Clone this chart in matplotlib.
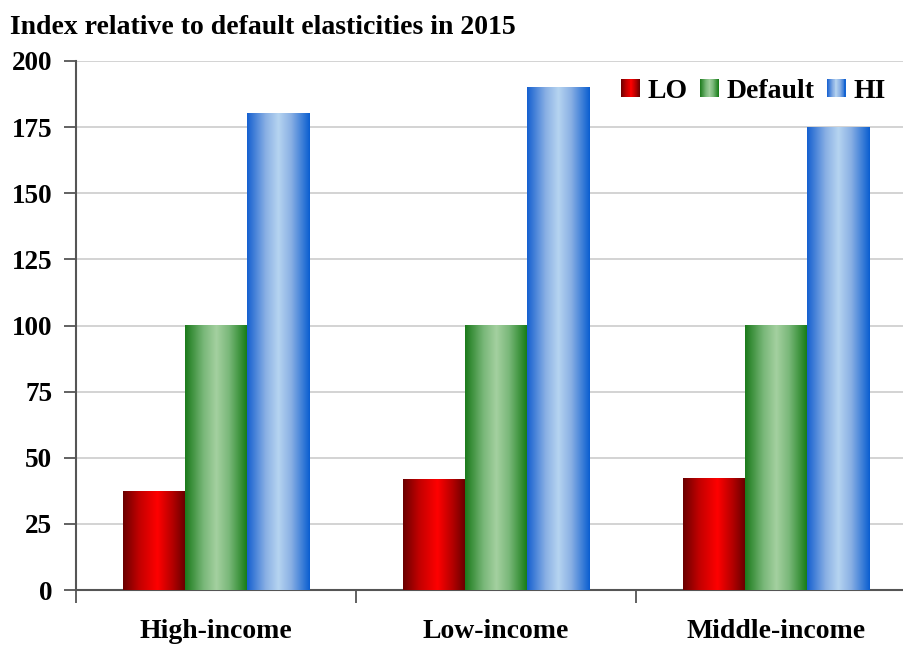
import numpy as np
import matplotlib.pyplot as plt
from matplotlib.colors import LinearSegmentedColormap
from matplotlib.patches import Rectangle
from matplotlib.legend_handler import HandlerBase

plt.rcParams['font.family'] = ['Liberation Serif', 'DejaVu Serif']
plt.rcParams['font.weight'] = 'bold'

# data
regions = ["High-income", "Low-income", "Middle-income"]
series = ["LO", "Default", "HI"]
lo_vals = [37.3, 41.8, 42.2]
default_vals = [100, 100, 100]
hi_vals = [180.3, 189.8, 175.0]
yticks = [0, 25, 50, 75, 100, 125, 150, 175, 200]

# horizontal gradients (edge -> centre -> edge)
cmaps = {
    "LO": LinearSegmentedColormap.from_list(
        "lo", [(0, "#6a0000"), (0.25, "#c00000"), (0.55, "#ff0000"), (0.8, "#b00000"), (1, "#640000")]),
    "Default": LinearSegmentedColormap.from_list(
        "df", [(0, "#1a7a1a"), (0.3, "#7ab87a"), (0.5, "#a4d0a0"), (0.7, "#7ab87a"), (1, "#127a12")]),
    "HI": LinearSegmentedColormap.from_list(
        "hi", [(0, "#1560d0"), (0.3, "#8ab0e4"), (0.5, "#b6d4f0"), (0.7, "#8ab0e4"), (1, "#0a5ed0")]),
}


class GradHandler(HandlerBase):
    # legend swatch drawn as thin vertical stripes
    def __init__(self, cmap):
        super().__init__()
        self.cmap = cmap

    def create_artists(self, legend, orig_handle, xdescent, ydescent, width, height, fontsize, trans):
        n = 20
        out = []
        for k in range(n):
            r = Rectangle((-xdescent + width * k / n, -ydescent), width / n + 0.3, height,
                          facecolor=self.cmap((k + 0.5) / n), edgecolor="none", transform=trans)
            out.append(r)
        return out


fig = plt.figure(figsize=(9.04, 6.47), dpi=100)
ax = fig.add_axes([76 / 904, 1 - 590 / 647, 840 / 904, 529 / 647])

x = np.arange(len(regions))
w = 0.222
grad = np.linspace(0, 1, 256).reshape(1, -1)

handles = []
for i, (name, vals) in enumerate(zip(series, [lo_vals, default_vals, hi_vals])):
    bars = ax.bar(x + (i - 1) * w, vals, w, color="none", zorder=3)
    for b in bars:
        x0, y0 = b.get_x(), b.get_y()
        ax.imshow(grad, cmap=cmaps[name], aspect="auto", zorder=3,
                  extent=(x0, x0 + b.get_width(), y0, y0 + b.get_height()))
    h = Rectangle((0, 0), 1, 1, label=name)
    handles.append(h)

ax.set_xlim(-0.5, 2.5)
ax.set_ylim(0, 200)
ax.set_yticks(yticks)
ax.set_yticklabels([str(t) for t in yticks], fontsize=19.5, fontweight="bold")
ax.set_xticks([-0.5, 0.5, 1.5, 2.5])
ax.set_xticklabels([])
ax.set_xticks(x, minor=True)
ax.set_xticklabels(regions, minor=True, fontsize=20, fontweight="bold")
ax.tick_params(axis="x", which="minor", length=0, pad=21)
ax.tick_params(axis="x", which="major", length=9, width=1.3, color="#555555", direction="out")
ax.tick_params(axis="y", length=9, width=1.3, color="#555555", pad=8)

ax.grid(axis="y", color="#d0d0d0", linewidth=1.3, zorder=0)
ax.set_axisbelow(True)
for s in ["top", "right"]:
    ax.spines[s].set_visible(False)
for s in ["left", "bottom"]:
    ax.spines[s].set_color("#555555")
    ax.spines[s].set_linewidth(1.5)

fig.text(10 / 904, 1 - 27 / 647, "Index relative to default elasticities in 2015",
         fontsize=20, fontweight="bold", va="center", ha="left")

leg = ax.legend(handles=handles, loc="upper right", bbox_to_anchor=(0.994, 1.014), ncol=3,
                frameon=False, fontsize=20, handlelength=0.65, handleheight=0.65,
                handletextpad=0.3, columnspacing=0.45,
                handler_map={h: GradHandler(cmaps[n]) for h, n in zip(handles, series)})
for t in leg.get_texts():
    t.set_fontweight("bold")

fig.savefig("out.png", dpi=100)
